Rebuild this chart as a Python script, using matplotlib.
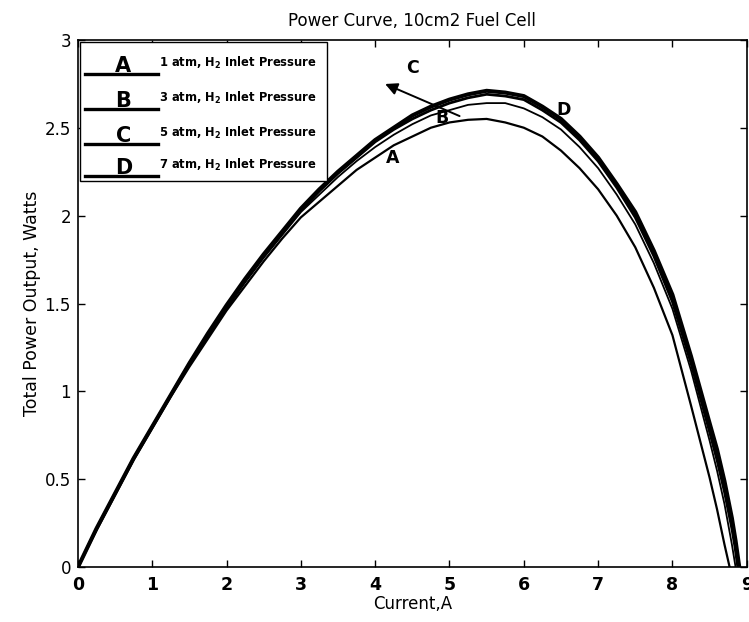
import matplotlib
matplotlib.use('Agg')
import matplotlib.pyplot as plt
from matplotlib.ticker import FuncFormatter
from matplotlib.patches import Rectangle

plt.rcParams['font.family'] = ['DejaVu Sans']

# current (A) and power (W)
cur_a = [0, 0.25, 0.5, 0.75, 1, 1.25, 1.5, 1.75, 2, 2.25, 2.5, 2.75, 3, 3.25, 3.5, 3.75, 4, 4.25, 4.5, 4.75,
         5, 5.25, 5.5, 5.75, 6, 6.25, 6.5, 6.75, 7, 7.25, 7.5, 7.75, 8, 8.25, 8.5, 8.6, 8.7, 8.77]
pow_a = [0, 0.21, 0.41, 0.61, 0.79, 0.97, 1.14, 1.30, 1.46, 1.60, 1.74, 1.87, 1.99, 2.08, 2.17, 2.26, 2.33, 2.40, 2.45, 2.50,
         2.53, 2.545, 2.55, 2.53, 2.50, 2.45, 2.37, 2.27, 2.15, 2.00, 1.82, 1.59, 1.32, 0.92, 0.51, 0.33, 0.13, 0]

cur_b = [0, 0.25, 0.5, 0.75, 1, 1.25, 1.5, 1.75, 2, 2.25, 2.5, 2.75, 3, 3.25, 3.5, 3.75, 4, 4.25, 4.5, 4.75,
         5, 5.25, 5.5, 5.75, 6, 6.25, 6.5, 6.75, 7, 7.25, 7.5, 7.75, 8, 8.25, 8.5, 8.6, 8.7, 8.8, 8.85]
pow_b = [0, 0.22, 0.42, 0.62, 0.80, 0.98, 1.15, 1.31, 1.47, 1.62, 1.76, 1.89, 2.02, 2.12, 2.22, 2.31, 2.39, 2.46, 2.52, 2.57,
         2.60, 2.63, 2.64, 2.64, 2.61, 2.56, 2.49, 2.39, 2.27, 2.12, 1.95, 1.73, 1.47, 1.12, 0.72, 0.55, 0.36, 0.13, 0]

cur_c = [0, 0.25, 0.5, 0.75, 1, 1.25, 1.5, 1.75, 2, 2.25, 2.5, 2.75, 3, 3.25, 3.5, 3.75, 4, 4.25, 4.5, 4.75,
         5, 5.25, 5.5, 5.75, 6, 6.25, 6.5, 6.75, 7, 7.25, 7.5, 7.75, 8, 8.25, 8.5, 8.6, 8.7, 8.8, 8.84, 8.88]
pow_c = [0, 0.22, 0.42, 0.62, 0.80, 0.98, 1.16, 1.32, 1.48, 1.63, 1.77, 1.90, 2.03, 2.14, 2.24, 2.33, 2.42, 2.49, 2.55, 2.60,
         2.64, 2.67, 2.69, 2.68, 2.66, 2.60, 2.53, 2.43, 2.31, 2.16, 1.99, 1.77, 1.51, 1.16, 0.77, 0.61, 0.43, 0.22, 0.12, 0]

cur_d = [0, 0.25, 0.5, 0.75, 1, 1.25, 1.5, 1.75, 2, 2.25, 2.5, 2.75, 3, 3.25, 3.5, 3.75, 4, 4.25, 4.5, 4.75,
         5, 5.25, 5.5, 5.75, 6, 6.25, 6.5, 6.75, 7, 7.25, 7.5, 7.75, 8, 8.25, 8.5, 8.6, 8.7, 8.8, 8.85, 8.9]
pow_d = [0, 0.22, 0.42, 0.62, 0.80, 0.98, 1.16, 1.33, 1.49, 1.64, 1.78, 1.91, 2.04, 2.15, 2.25, 2.34, 2.43, 2.50, 2.57, 2.62,
         2.66, 2.69, 2.71, 2.70, 2.68, 2.62, 2.55, 2.45, 2.33, 2.18, 2.02, 1.80, 1.55, 1.20, 0.82, 0.67, 0.49, 0.28, 0.15, 0]

letters = ['A', 'B', 'C', 'D']
legend_labels = ['1 atm, H$_\\mathbf{2}$ Inlet Pressure',
                 '3 atm, H$_\\mathbf{2}$ Inlet Pressure',
                 '5 atm, H$_\\mathbf{2}$ Inlet Pressure',
                 '7 atm, H$_\\mathbf{2}$ Inlet Pressure']

fig = plt.figure(figsize=(7.49, 6.22), dpi=100)
ax = fig.add_axes([0.104, 0.088, 0.893, 0.848])

ax.plot(cur_a, pow_a, color='k', lw=1.6)
ax.plot(cur_b, pow_b, color='k', lw=1.3)
ax.plot(cur_c, pow_c, color='k', lw=2.0)
ax.plot(cur_d, pow_d, color='k', lw=2.9)

ax.set_xlim(0, 9)
ax.set_ylim(0, 3)
ax.set_xticks(range(0, 10))
ax.set_yticks([0, 0.5, 1, 1.5, 2, 2.5, 3])
ax.yaxis.set_major_formatter(FuncFormatter(lambda v, p: '%g' % v))
ax.tick_params(direction='in', top=True, right=True, length=5, width=1)
ax.tick_params(axis='x', labelsize=12.5, pad=6)
ax.tick_params(axis='y', labelsize=12, pad=5)
for lab in ax.get_xticklabels():
    lab.set_fontweight('bold')
for s in ax.spines.values():
    s.set_linewidth(1.2)

ax.set_title('Power Curve, 10cm2 Fuel Cell', fontsize=12, pad=10)
ax.set_xlabel('Current,A', fontsize=12)
ax.xaxis.set_label_coords(0.5, -0.052)
ax.xaxis.label.set_va('top')
ax.set_ylabel('Total Power Output, Watts', fontsize=12.5)
ax.yaxis.set_label_coords(-0.055, 0.5)

# curve letters and arrow
ax.text(4.23, 2.33, 'A', fontsize=12.5, fontweight='bold', ha='center', va='center')
ax.text(4.90, 2.555, 'B', fontsize=12.5, fontweight='bold', ha='center', va='center')
ax.text(4.50, 2.84, 'C', fontsize=12.5, fontweight='bold', ha='center', va='center')
ax.text(6.53, 2.60, 'D', fontsize=12.5, fontweight='bold', ha='center', va='center')
ax.annotate('', xy=(4.10, 2.755), xytext=(5.17, 2.56),
            arrowprops=dict(arrowstyle='-|>', color='k', lw=1.4, mutation_scale=18))

# legend box drawn by hand (letter above each line)
ax.add_patch(Rectangle((0.003, 0.732), 0.369, 0.264, transform=ax.transAxes,
                       facecolor='white', edgecolor='k', lw=1.0, zorder=5))
row_y = [0.935, 0.868, 0.802, 0.741]
for i in range(4):
    y = row_y[i]
    ax.plot([0.011, 0.120], [y, y], transform=ax.transAxes, color='k', lw=2.4, zorder=6)
    ax.text(0.068, y - 0.003, letters[i], transform=ax.transAxes, fontsize=15,
            fontweight='bold', ha='center', va='bottom', zorder=7)
    ax.text(0.121, y + 0.006, legend_labels[i], transform=ax.transAxes, fontsize=8.3,
            fontweight='bold', ha='left', va='bottom', zorder=7)

fig.savefig('out.png', dpi=100)
